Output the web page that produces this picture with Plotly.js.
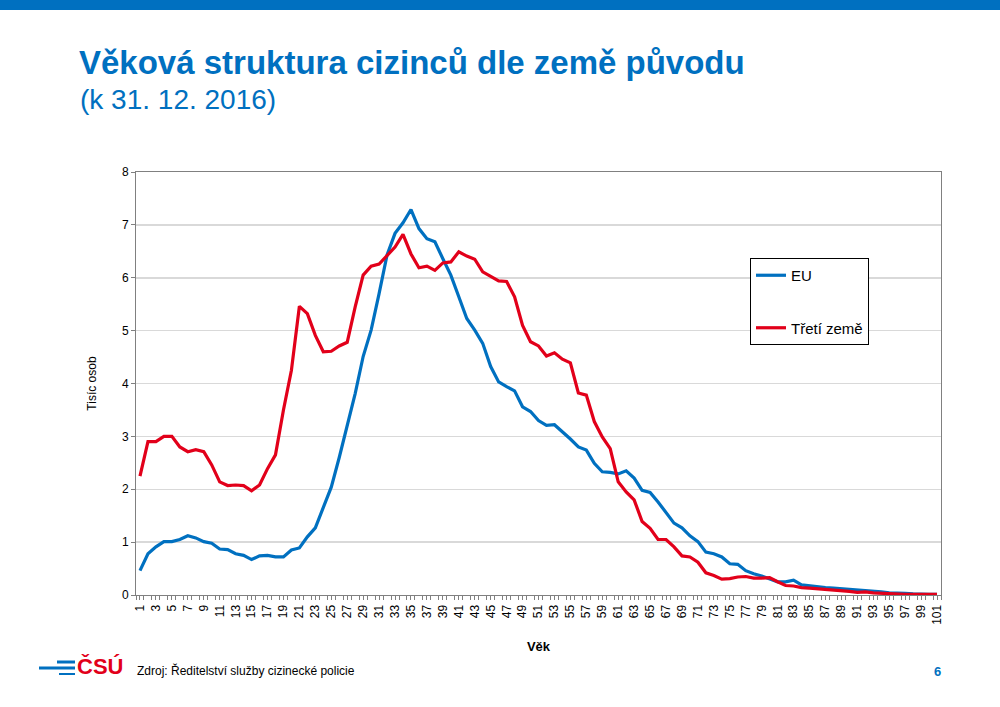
<!DOCTYPE html>
<html>
<head>
<meta charset="utf-8">
<script src="https://cdn.plot.ly/plotly-3.0.1.min.js"></script>
<style>
html,body{margin:0;padding:0;background:#fff;}
#chart{width:1000px;height:707px;}
</style>
</head>
<body>
<div id="chart"></div>
<script>
// Age categories 1..101
const ages = [];
for (let a = 1; a <= 101; a++) ages.push(a);

const tickLabels = ages.filter(a => a % 2 === 1);

// Thousands of persons, EU citizens
const euValues = [
  0.46, 0.78, 0.91, 1.01, 1.01, 1.05, 1.12, 1.08, 1.01, 0.98,
  0.87, 0.86, 0.78, 0.75, 0.67, 0.74, 0.75, 0.72, 0.72, 0.85,
  0.89, 1.10, 1.27, 1.67, 2.04, 2.60, 3.20, 3.81, 4.51, 5.01,
  5.70, 6.43, 6.84, 7.04, 7.29, 6.93, 6.74, 6.68, 6.36, 6.05,
  5.64, 5.23, 5.01, 4.76, 4.32, 4.03, 3.94, 3.86, 3.56, 3.47,
  3.30, 3.21, 3.22, 3.09, 2.95, 2.80, 2.74, 2.49, 2.33, 2.32,
  2.29, 2.35, 2.21, 1.98, 1.94, 1.76, 1.57, 1.36, 1.27, 1.12,
  1.01, 0.81, 0.78, 0.72, 0.59, 0.58, 0.46, 0.40, 0.36, 0.30,
  0.25, 0.25, 0.28, 0.19, 0.17, 0.16, 0.14, 0.13, 0.12, 0.11,
  0.09, 0.09, 0.08, 0.06, 0.04, 0.04, 0.03, 0.02, 0.01, 0.01,
  0.01
];

// Thousands of persons, third countries
const thirdValues = [
  2.25, 2.90, 2.90, 3.00, 3.00, 2.80, 2.71, 2.75, 2.71, 2.46,
  2.14, 2.07, 2.08, 2.07, 1.97, 2.08, 2.39, 2.65, 3.50, 4.25,
  5.46, 5.32, 4.91, 4.60, 4.61, 4.71, 4.78, 5.45, 6.05, 6.22,
  6.26, 6.43, 6.58, 6.82, 6.45, 6.19, 6.22, 6.14, 6.28, 6.30,
  6.49, 6.41, 6.35, 6.11, 6.03, 5.94, 5.93, 5.64, 5.10, 4.79,
  4.71, 4.52, 4.58, 4.46, 4.39, 3.82, 3.78, 3.28, 2.99, 2.77,
  2.14, 1.95, 1.80, 1.39, 1.26, 1.05, 1.05, 0.91, 0.74, 0.72,
  0.62, 0.42, 0.37, 0.30, 0.31, 0.34, 0.35, 0.32, 0.32, 0.33,
  0.25, 0.18, 0.17, 0.14, 0.13, 0.12, 0.11, 0.10, 0.09, 0.07,
  0.05, 0.06, 0.04, 0.03, 0.02, 0.02, 0.01, 0.01, 0.01, 0.01,
  0.01
];

const seriesNames = ['EU', 'Třetí země'];
const blue = '#0070c0';
const red = '#e2001a';
const font = 'Liberation Sans, Arial, sans-serif';

// pixel -> paper helpers (plot area: x 136..941, y 172..595)
const L = 136, R = 941, T = 172, B = 595;
const px = x => (x - L) / (R - L);
const py = y => (B - y) / (B - T);

const traces = [
  {x: ages, y: euValues, name: seriesNames[0], legendgroup: 'a', type: 'scatter', mode: 'lines',
   line: {color: blue, width: 3.2}},
  {x: ages, y: thirdValues, name: seriesNames[1], legendgroup: 'b', type: 'scatter', mode: 'lines',
   line: {color: red, width: 3.2}}
];

const layout = {
  width: 1000, height: 707,
  margin: {l: L, r: 1000 - R, t: T, b: 707 - B, pad: 0},
  paper_bgcolor: '#fff', plot_bgcolor: '#fff',
  font: {family: font, color: '#000', size: 12},
  showlegend: true,
  legend: {
    x: px(750), y: py(258), xanchor: 'left', yanchor: 'top',
    bgcolor: '#fff', bordercolor: '#000', borderwidth: 1,
    font: {family: font, size: 15, color: '#000'},
    tracegroupgap: 30, itemwidth: 30,
    traceorder: 'grouped'
  },
  xaxis: {
    range: [0.5, 101.5],
    tickmode: 'array', tickvals: tickLabels, ticktext: tickLabels.map(String),
    tickangle: -90, ticks: 'outside', ticklen: 4, tickcolor: '#808080',
    tickfont: {family: font, size: 12, color: '#000'},
    minor: {tickmode: 'linear', tick0: 0.5, dtick: 1, ticks: 'outside', ticklen: 4, tickcolor: '#808080', showgrid: false},
    showgrid: false, zeroline: false,
    showline: true, linecolor: '#808080', linewidth: 1, mirror: true,
    title: {text: '<b>Věk</b>', font: {family: font, size: 13, color: '#000'}, standoff: 18}
  },
  yaxis: {
    range: [0, 8], dtick: 1, tick0: 0,
    ticks: 'outside', ticklen: 4, tickcolor: '#808080',
    tickfont: {family: font, size: 12, color: '#000'},
    showgrid: true, gridcolor: '#d9d9d9', gridwidth: 1.5,
    zeroline: false,
    showline: true, linecolor: '#808080', linewidth: 1, mirror: true,
    title: {text: 'Tisíc osob', font: {family: font, size: 12, color: '#000'}, standoff: 22}
  },
  title: {
    text: '<b>Věková struktura cizinců dle země původu</b>',
    font: {family: font, size: 33, color: blue},
    x: 79 / 1000, xanchor: 'left', xref: 'container',
    y: 1 - 62 / 707, yanchor: 'middle', yref: 'container'
  },
  annotations: [
    {text: '(k 31. 12. 2016)', xref: 'paper', yref: 'paper', x: px(78), y: py(99),
     xanchor: 'left', yanchor: 'middle', showarrow: false,
     font: {family: font, size: 28, color: blue}},
    {text: '<b>ČSÚ</b>', xref: 'paper', yref: 'paper', x: px(75), y: py(666),
     xanchor: 'left', yanchor: 'middle', showarrow: false,
     font: {family: font, size: 22, color: red}},
    {text: 'Zdroj: Ředitelství služby cizinecké policie', xref: 'paper', yref: 'paper',
     x: px(135), y: py(670), xanchor: 'left', yanchor: 'middle', showarrow: false,
     font: {family: font, size: 12, color: '#000'}},
    {text: '<b>6</b>', xref: 'paper', yref: 'paper', x: px(937), y: py(671),
     xanchor: 'center', yanchor: 'middle', showarrow: false,
     font: {family: font, size: 13, color: blue}}
  ],
  shapes: [
    {type: 'rect', xref: 'paper', yref: 'paper', x0: px(0), x1: px(1000), y0: py(0), y1: py(10),
     fillcolor: blue, line: {width: 0}, layer: 'above'},
    {type: 'line', xref: 'paper', yref: 'paper', x0: px(39), x1: px(75), y0: py(668), y1: py(668),
     line: {color: blue, width: 3}},
    {type: 'line', xref: 'paper', yref: 'paper', x0: px(57), x1: px(75), y0: py(662), y1: py(662),
     line: {color: blue, width: 3}},
    {type: 'line', xref: 'paper', yref: 'paper', x0: px(59), x1: px(75), y0: py(674), y1: py(674),
     line: {color: blue, width: 2}}
  ]
};

Plotly.newPlot('chart', traces, layout, {displayModeBar: false, staticPlot: true});
</script>
</body>
</html>
